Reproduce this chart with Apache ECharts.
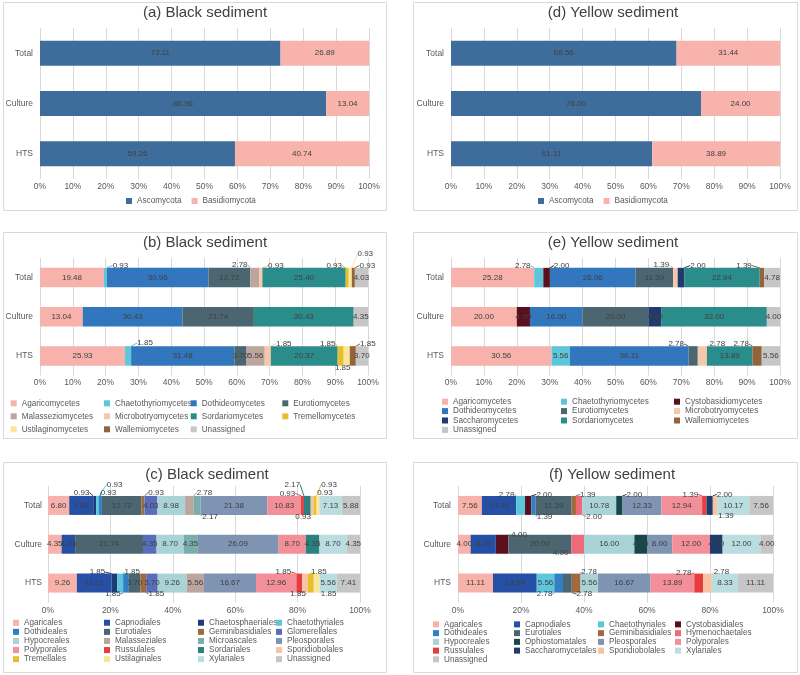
<!DOCTYPE html>
<html><head><meta charset="utf-8">
<script src="https://cdn.jsdelivr.net/npm/echarts@6/dist/echarts.min.js"></script>
<style>html,body{margin:0;padding:0;background:#fff}#c{width:800px;height:675px}</style>
</head><body><div id="c"></div>
<script>
// ---------- DATA ----------
const categories = ['Total', 'Culture', 'HTS'];

// (a) / (d) phylum level, values per phylum: [Total, Culture, HTS]
const phyla = ['Ascomycota', 'Basidiomycota'];
const aAscomycota = [73.11, 86.96, 59.26];
const aBasidiomycota = [26.89, 13.04, 40.74];
const dAscomycota = [68.56, 76.00, 61.11];
const dBasidiomycota = [31.44, 24.00, 38.89];

// (b) class level, black sediment, values in order of bClasses
const bClasses = ['Agaricomycetes','Chaetothyriomycetes','Dothideomycetes','Eurotiomycetes','Malasseziomycetes','Microbotryomycetes','Sordariomycetes','Tremellomycetes','Ustilaginomycetes','Wallemiomycetes','Unassigned'];
const bTotal   = [19.48, 0.93, 30.96, 12.72, 2.78, 0.93, 25.40, 0.93, 0.93, 0.93, 4.03];
const bCulture = [13.04, null, 30.43, 21.74, null, null, 30.43, null, null, null, 4.35];
const bHTS     = [25.93, 1.85, 31.48, 3.70, 5.56, 1.85, 20.37, 1.85, 1.85, 1.85, 3.70];

// (e) class level, yellow sediment
const eClasses = ['Agaricomycetes','Chaetothyriomycetes','Cystobasidiomycetes','Dothideomycetes','Eurotiomycetes','Microbotryomycetes','Saccharomycetes','Sordariomycetes','Wallemiomycetes','Unassigned'];
const eTotal   = [25.28, 2.78, 2.00, 26.06, 11.39, 1.39, 2.00, 22.94, 1.39, 4.78];
const eCulture = [20.00, null, 4.00, 16.00, 20.00, null, 4.00, 32.00, null, 4.00];
const eHTS     = [30.56, 5.56, null, 36.11, 2.78, 2.78, null, 13.89, 2.78, 5.56];

// (c) order level, black sediment
const cOrders = ['Agaricales','Capnodiales','Chaetosphaeriales','Chaetothyriales','Dothideales','Eurotiales','Geminibasidiales','Glomerellales','Hypocreales','Malasseziales','Microascales','Pleosporales','Polyporales','Russulales','Sordariales','Sporidiobolales','Tremellales','Ustilaginales','Xylariales','Unassigned'];
const cTotal   = [6.80, 7.69, 0.93, 0.93, 0.93, 12.72, 0.93, 4.03, 8.98, 2.78, 2.17, 21.38, 10.83, 0.93, 2.17, 0.93, 0.93, 0.93, 7.13, 5.88];
const cCulture = [4.35, 4.35, null, null, null, 21.74, null, 4.35, 8.70, null, 4.35, 26.09, 8.70, null, 4.35, null, null, null, 8.70, 4.35];
const cHTS     = [9.26, 11.11, 1.85, 1.85, 1.85, 3.70, 1.85, 3.70, 9.26, 5.56, null, 16.67, 12.96, 1.85, null, 1.85, 1.85, 1.85, 5.56, 7.41];

// (f) order level, yellow sediment
const fOrders = ['Agaricales','Capnodiales','Chaetothyriales','Cystobasidiales','Dothideales','Eurotiales','Geminibasidiales','Hymenochaetales','Hypocreales','Ophiostomatales','Pleosporales','Polyporales','Russulales','Saccharomycetales','Sporidiobolales','Xylariales','Unassigned'];
const fTotal   = [7.56, 10.94, 2.78, 2.00, 1.39, 11.39, 1.39, 2.00, 10.78, 2.00, 12.33, 12.94, 1.39, 2.00, 1.39, 10.17, 7.56];
const fCulture = [4.00, 8.00, null, 4.00, null, 20.00, null, 4.00, 16.00, 4.00, 8.00, 12.00, null, 4.00, null, 12.00, 4.00];
const fHTS     = [11.11, 13.89, 5.56, null, 2.78, 2.78, 2.78, null, 5.56, null, 16.67, 13.89, 2.78, null, 2.78, 8.33, 11.11];

// ---------- STYLE ----------
const colors = {
  Ascomycota:'#3E6D9C', Basidiomycota:'#F8B4AC',
  Agaricomycetes:'#F7B2AB', Chaetothyriomycetes:'#5CC6DA', Cystobasidiomycetes:'#5B0F1E', Dothideomycetes:'#3276BE',
  Eurotiomycetes:'#4B6670', Malasseziomycetes:'#BCA59D', Microbotryomycetes:'#F6C8AA', Saccharomycetes:'#1E3B6B',
  Sordariomycetes:'#2B8C8C', Tremellomycetes:'#E5BF2E', Ustilaginomycetes:'#FBE69A', Wallemiomycetes:'#93633A', Unassigned:'#C6C6C6',
  Agaricales:'#F7B2AB', Capnodiales:'#2550A6', Chaetosphaeriales:'#1C3C78', Chaetothyriales:'#5CC6DA', Cystobasidiales:'#5B0F1E',
  Dothideales:'#3180C6', Eurotiales:'#4B6670', Geminibasidiales:'#A06A3C', Glomerellales:'#5A6DBA', Hymenochaetales:'#EF6A79',
  Hypocreales:'#A9D3D6', Malasseziales:'#BCA59D', Microascales:'#7AAEAA', Ophiostomatales:'#17474D', Pleosporales:'#7F93B2',
  Polyporales:'#F28F99', Russulales:'#E63E3E', Saccharomycetales:'#1E3B6B', Sordariales:'#2B8080', Sporidiobolales:'#F6C4A2',
  Tremellales:'#E5BF2E', Ustilaginales:'#FBE69A', Xylariales:'#BADDE0'
};
const FONT = '"Liberation Sans", Arial, sans-serif';
const TEXT = '#595959';

// label offsets (dx, dy from segment centre) for small segments
const bOffsets = {
  'Total|Chaetothyriomycetes':[15,-12], 'Total|Malasseziomycetes':[-15,-13], 'Total|Microbotryomycetes':[15,-12],
  'Total|Tremellomycetes':[-13,-12], 'Total|Ustilaginomycetes':[15,-24], 'Total|Wallemiomycetes':[14,-12],
  'HTS|Chaetothyriomycetes':[17,-13], 'HTS|Microbotryomycetes':[16,-12], 'HTS|Tremellomycetes':[-13,-12],
  'HTS|Ustilaginomycetes':[-4,12], 'HTS|Wallemiomycetes':[15,-12]
};
const eOffsets = {
  'Total|Chaetothyriomycetes':[-16,-12], 'Total|Cystobasidiomycetes':[15,-12], 'Total|Microbotryomycetes':[-14,-13],
  'Total|Saccharomycetes':[17,-12], 'Total|Wallemiomycetes':[-18,-12],
  'HTS|Eurotiomycetes':[-17,-12], 'HTS|Microbotryomycetes':[15,-12], 'HTS|Wallemiomycetes':[-16,-12]
};
const cOffsets = {
  'Total|Chaetosphaeriales':[-13,-13], 'Total|Chaetothyriales':[17,-21], 'Total|Dothideales':[8,-13],
  'Total|Geminibasidiales':[13,-13], 'Total|Malasseziales':[15,-13], 'Total|Microascales':[13,11],
  'Total|Russulales':[-15,-12], 'Total|Sordariales':[-15,-21], 'Total|Sporidiobolales':[-9,11],
  'Total|Tremellales':[14,-21], 'Total|Ustilaginales':[7,-13],
  'HTS|Chaetosphaeriales':[-17,-11], 'HTS|Chaetothyriales':[12,-11], 'HTS|Dothideales':[-13,11],
  'HTS|Geminibasidiales':[13,11], 'HTS|Russulales':[-16,-11], 'HTS|Sporidiobolales':[-7,11],
  'HTS|Tremellales':[8,-11], 'HTS|Ustilaginales':[12,11]
};
const fOffsets = {
  'Total|Chaetothyriales':[-14,-11], 'Total|Cystobasidiales':[16,-11], 'Total|Dothideales':[11,11],
  'Total|Geminibasidiales':[14,-11], 'Total|Hymenochaetales':[15,11], 'Total|Ophiostomatales':[15,-11],
  'Total|Russulales':[-14,-11], 'Total|Saccharomycetales':[15,-11], 'Total|Sporidiobolales':[11,10],
  'Culture|Cystobasidiales':[17,-9], 'Culture|Hymenochaetales':[-17,9],
  'HTS|Dothideales':[-14,11], 'HTS|Eurotiales':[17,11], 'HTS|Geminibasidiales':[13,-11],
  'HTS|Russulales':[-15,-10], 'HTS|Sporidiobolales':[14,-11]
};

const byTaxon = (arrs) => (ti, ci) => arrs[ti][ci];
const byCategory = (rows) => (ti, ci) => rows[ci][ti];

const panels = [
  { title:'(a) Black sediment', tx:205, ty:5, grid:{left:40, top:28, width:329, height:151}, bar:25, interval:10, xm:3, ym:7,
    taxa:phyla, get:byTaxon([aAscomycota, aBasidiomycota]), offsets:{} },
  { title:'(b) Black sediment', tx:205, ty:235.5, grid:{left:40, top:258, width:328, height:117.5}, bar:19.5, interval:10, xm:2.5, ym:7,
    taxa:bClasses, get:byCategory([bTotal, bCulture, bHTS]), offsets:bOffsets },
  { title:'(c) Black sediment', tx:207, ty:467.5, grid:{left:48, top:486, width:312, height:116.5}, bar:19, interval:20, xm:4, ym:6,
    taxa:cOrders, get:byCategory([cTotal, cCulture, cHTS]), offsets:cOffsets },
  { title:'(d) Yellow sediment', tx:613, ty:5, grid:{left:451, top:28, width:329, height:151}, bar:25, interval:10, xm:3, ym:7,
    taxa:phyla, get:byTaxon([dAscomycota, dBasidiomycota]), offsets:{} },
  { title:'(e) Yellow sediment', tx:613, ty:235.5, grid:{left:451, top:258, width:329, height:117.5}, bar:19.5, interval:10, xm:2.5, ym:7,
    taxa:eClasses, get:byCategory([eTotal, eCulture, eHTS]), offsets:eOffsets },
  { title:'(f) Yellow sediment', tx:612, ty:467.5, grid:{left:458, top:486, width:315, height:116.5}, bar:19, interval:20, xm:3.5, ym:7,
    taxa:fOrders, get:byCategory([fTotal, fCulture, fHTS]), offsets:fOffsets }
];

const grids = [], xAxes = [], yAxes = [], series = [], titles = [];
panels.forEach((p, i) => {
  grids.push(Object.assign({containLabel:false}, p.grid));
  xAxes.push({ type:'value', gridIndex:i, min:0, max:100, interval:p.interval,
    axisLine:{show:false}, axisTick:{show:false},
    splitLine:{show:true, lineStyle:{color:'#D9D9D9', width:1}},
    axisLabel:{formatter:'{value}%', fontSize:8.5, color:TEXT, fontFamily:FONT, margin:p.xm} });
  yAxes.push({ type:'category', gridIndex:i, inverse:true, data:categories,
    axisLine:{show:false}, axisTick:{show:false}, splitLine:{show:false},
    axisLabel:{fontSize:8.5, color:TEXT, fontFamily:FONT, margin:p.ym} });
  titles.push({ text:p.title, left:p.tx, top:p.ty, textAlign:'center', padding:0,
    textStyle:{fontSize:15, fontWeight:'normal', color:'#404040', fontFamily:FONT} });
  p.taxa.forEach((t, ti) => {
    const col = colors[t];
    series.push({
      type:'bar', name:t, stack:'s' + i, xAxisIndex:i, yAxisIndex:i, barWidth:p.bar,
      itemStyle:{color:col},
      data: categories.map((c, ci) => { const v = p.get(ti, ci); return v == null ? '-' : v; }),
      label:{ show:true, position:'inside', fontSize:8, color:'#404040', fontFamily:FONT,
        formatter: d => Number(d.value).toFixed(2) },
      labelLine:{ show:true, lineStyle:{color:col, width:1} },
      labelLayout: params => {
        const off = p.offsets[categories[params.dataIndex] + '|' + t];
        if (!off) return {};
        const r = params.rect;
        return { x: r.x + r.width / 2 + off[0], y: r.y + r.height / 2 + off[1], align:'center', verticalAlign:'middle' };
      },
      emphasis:{disabled:true}
    });
  });
});

const legendBase = (left, top, data, orient, lineHeight, gap) => ({
  left, top, data, orient, padding:0, itemWidth:6, itemHeight:6, itemGap:gap, icon:'rect',
  selectedMode:false, textStyle:{fontSize:8.2, color:TEXT, fontFamily:FONT, lineHeight}
});
const legends = [
  legendBase(126, 196.5, ['Ascomycota','Basidiomycota'], 'horizontal', 9, 10),
  legendBase(538, 196.5, ['Ascomycota','Basidiomycota'], 'horizontal', 9, 10),
  // (b)
  legendBase(10.7, 398.8, ['Agaricomycetes','Malasseziomycetes','Ustilaginomycetes'], 'vertical', 9, 4),
  legendBase(104, 398.8, ['Chaetothyriomycetes','Microbotryomycetes','Wallemiomycetes'], 'vertical', 9, 4),
  legendBase(190.7, 398.8, ['Dothideomycetes','Sordariomycetes','Unassigned'], 'vertical', 9, 4),
  legendBase(282.3, 398.8, ['Eurotiomycetes','Tremellomycetes'], 'vertical', 9, 4),
  // (e)
  legendBase(442, 397, ['Agaricomycetes','Dothideomycetes','Saccharomycetes','Unassigned'], 'vertical', 9.4, 0),
  legendBase(561, 397, ['Chaetothyriomycetes','Eurotiomycetes','Sordariomycetes'], 'vertical', 9.4, 0),
  legendBase(674, 397, ['Cystobasidiomycetes','Microbotryomycetes','Wallemiomycetes'], 'vertical', 9.4, 0),
  // (c)
  legendBase(13, 618.2, ['Agaricales','Dothideales','Hypocreales','Polyporales','Tremellales'], 'vertical', 9.1, 0),
  legendBase(104, 618.2, ['Capnodiales','Eurotiales','Malasseziales','Russulales','Ustilaginales'], 'vertical', 9.1, 0),
  legendBase(198, 618.2, ['Chaetosphaeriales','Geminibasidiales','Microascales','Sordariales','Xylariales'], 'vertical', 9.1, 0),
  legendBase(276, 618.2, ['Chaetothyriales','Glomerellales','Pleosporales','Sporidiobolales','Unassigned'], 'vertical', 9.1, 0),
  // (f)
  legendBase(433, 620, ['Agaricales','Dothideales','Hypocreales','Russulales','Unassigned'], 'vertical', 8.75, 0),
  legendBase(514, 620, ['Capnodiales','Eurotiales','Ophiostomatales','Saccharomycetales'], 'vertical', 8.75, 0),
  legendBase(598, 620, ['Chaetothyriales','Geminibasidiales','Pleosporales','Sporidiobolales'], 'vertical', 8.75, 0),
  legendBase(675, 620, ['Cystobasidiales','Hymenochaetales','Polyporales','Xylariales'], 'vertical', 8.75, 0)
];

const box = (x, y, w, h) => ({ type:'rect', silent:true, z:-10, shape:{x, y, width:w, height:h},
  style:{fill:'none', stroke:'#D9D9D9', lineWidth:1} });

const chart = echarts.init(document.getElementById('c'), null, {renderer:'canvas'});
chart.setOption({
  animation:false,
  backgroundColor:'#ffffff',
  title:titles,
  grid:grids,
  xAxis:xAxes,
  yAxis:yAxes,
  legend:legends,
  series:series,
  graphic:[
    box(3.5, 2.5, 383, 208), box(3.5, 232.5, 383, 206), box(3.5, 462.5, 383, 210),
    box(413.5, 2.5, 384, 208), box(413.5, 232.5, 384, 206), box(413.5, 462.5, 384, 210)
  ]
});
</script>
</body></html>
